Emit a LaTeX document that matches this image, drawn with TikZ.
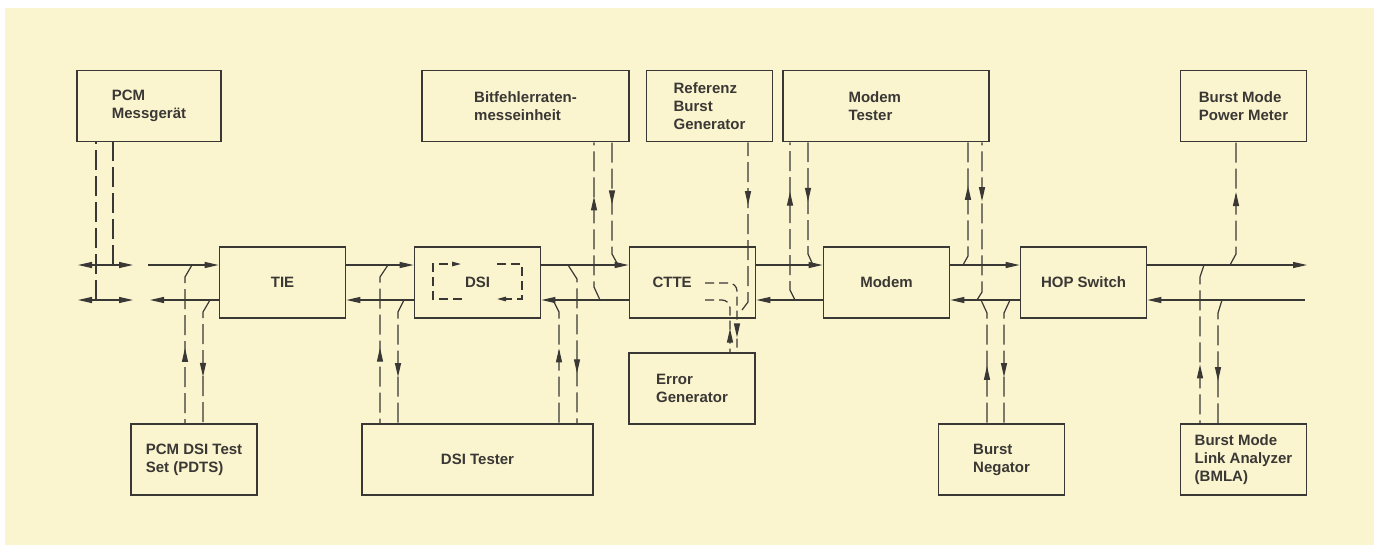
\documentclass[tikz,border=0pt]{standalone}
\usepackage{fontspec}
\setmainfont{Liberation Sans}
\usetikzlibrary{arrows.meta, decorations.markings}
\definecolor{paper}{RGB}{250,244,207}
\definecolor{ink}{RGB}{58,56,52}

\begin{document}
\begin{tikzpicture}[x=1pt, y=-1pt, >={Triangle[length=14pt, width=6pt]},
    font=\bfseries\fontsize{15}{18}\selectfont,
    box/.style={draw=ink, line width=1.8pt, text=ink, align=left, minimum width=126pt, minimum height=71pt, inner sep=2pt},
    bus/.style={draw=ink, line width=1.2pt},
    tap/.style={draw=ink, line width=1.2pt, dash pattern=on 20pt off 6pt},
    inner/.style={draw=ink, line width=1.2pt, dash pattern=on 9pt off 5pt},
    small/.style={-{Triangle[length=9pt, width=4.5pt]}},
    fwd/.style={postaction={decorate}, decoration={markings, mark=at position #1 with {\arrow{>}}}},
    fwd/.default=0.5,
    bwd/.style={postaction={decorate}, decoration={markings, mark=at position #1 with {\arrowreversed{>}}}},
    bwd/.default=0.5]
  % paper
  \fill[white] (0,0) rectangle (1379,550);
  \fill[paper] (5,8) rectangle (1374,545);
  \useasboundingbox (0,0) rectangle (1379,550);

  % top row
  \node[box, minimum width=144pt] (pcm) at (149,106) {PCM\\Messgerät};
  \node[box, minimum width=207pt] (bfr) at (525.5,106) {Bitfehlerraten-\\messeinheit};
  \node[box] (rbg) at (709.5,106) {Referenz\\Burst\\Generator};
  \node[box, minimum width=206pt] (mtst) at (886,106) {\makebox[75pt][l]{Modem}\\Tester};
  \node[box] (bmpm) at (1243.5,106) {Burst Mode\\Power Meter};
  % main chain
  \node[box] (tie) at (282.5,282.5) {TIE};
  \node[box] (dsi) at (477.5,282.5) {DSI};
  \node[box] (ctte) at (692.5,282.5) {\makebox[80pt][l]{CTTE}};
  \node[box] (modem) at (886.5,282.5) {Modem};
  \node[box] (hop) at (1083.5,282.5) {HOP Switch};
  % bottom row
  \node[box] (errg) at (692,388.5) {Error\\Generator};
  \node[box] (pdts) at (194,459.5) {PCM DSI Test\\Set (PDTS)};
  \node[box, minimum width=231pt] (dsit) at (477.5,459.5) {DSI Tester};
  \node[box] (bneg) at (1001.5,459.5) {Burst\\Negator};
  \node[box] (bmla) at (1243.5,459.5) {Burst Mode\\Link Analyzer\\(BMLA)};

  % bus levels and free ends
  \coordinate (up) at (0,265);
  \coordinate (dn) at (0,300);
  \coordinate (lu1) at (78,265);
  \coordinate (lu2) at (133,265);
  \coordinate (ld1) at (78,300);
  \coordinate (ld2) at (133,300);
  \coordinate (tu) at (148,265);
  \coordinate (td) at (150,300);
  \coordinate (ru) at (1307,265);
  \coordinate (rd) at (1305,300);

  % bus lines
  \draw[bus, <->] (lu1) -- (lu2);
  \draw[bus, <->] (ld1) -- (ld2);
  \draw[bus, ->] (tu) -- (tie.west |- up);
  \draw[bus, ->] (tie.west |- dn) -- (td);
  \draw[bus, ->] (tie.east |- up) -- (dsi.west |- up);
  \draw[bus, ->] (dsi.west |- dn) -- (tie.east |- dn);
  \draw[bus, ->] (dsi.east |- up) -- (ctte.west |- up);
  \draw[bus, ->] (ctte.west |- dn) -- (dsi.east |- dn);
  \draw[bus, ->] (ctte.east |- up) -- (modem.west |- up);
  \draw[bus, ->] (modem.west |- dn) -- (ctte.east |- dn);
  \draw[bus, ->] (modem.east |- up) -- (hop.west |- up);
  \draw[bus, ->] (hop.west |- dn) -- (modem.east |- dn);
  \draw[bus, ->] (hop.east |- up) -- (ru);
  \draw[bus, ->] (rd) -- (hop.east |- dn);

  % taps
  \draw[tap] (96,300) -- ([xshift=-53pt]pcm.south);
  \draw[tap] (113,265) -- ([xshift=-36pt]pcm.south);
  \draw[tap, bwd=0.53] (192,265) -- (185,277) -- ([xshift=-9pt]pdts.north);
  \draw[tap, fwd=0.63] (210,300) -- (203,312) -- ([xshift=9pt]pdts.north);
  \draw[tap, bwd=0.53] (388,265) -- (380,277) -- ([xshift=-97.5pt]dsit.north);
  \draw[tap, fwd=0.63] (404,300) -- (398,312) -- ([xshift=-79.5pt]dsit.north);
  \draw[tap, bwd=0.4] (553,300) -- (559,312) -- ([xshift=81.5pt]dsit.north);
  \draw[tap, fwd=0.69] (568,265) -- (577,279) -- ([xshift=99.5pt]dsit.north);
  \draw[tap, fwd=0.66] (600,300) -- (594,287) -- ([xshift=68.5pt]bfr.south);
  \draw[tap, bwd=0.5] (618,265) -- (612,254) -- ([xshift=86.5pt]bfr.south);
  \draw[tap, bwd=0.63] (742,310) -- (748,302) -- ([xshift=38.5pt]rbg.south);
  \draw[tap, fwd=0.69] (795,300) -- (790,290) -- ([xshift=-96pt]mtst.south);
  \draw[tap, bwd=0.52] (813,265) -- (808,254) -- ([xshift=-78pt]mtst.south);
  \draw[tap, fwd=0.65] (963,265) -- (968,256) -- ([xshift=82pt]mtst.south);
  \draw[tap, bwd=0.63] (977,300) -- (982,292) -- ([xshift=96pt]mtst.south);
  \draw[tap, bwd=0.54] (981,300) -- (987,313) -- ([xshift=-14.5pt]bneg.north);
  \draw[tap, fwd=0.63] (1010,300) -- (1004,313) -- ([xshift=2.5pt]bneg.north);
  \draw[tap, fwd=0.6] (1230,265) -- (1236,254) -- ([xshift=-7.5pt]bmpm.south);
  \draw[tap, bwd=0.63] (1204,265) -- (1200,277) -- ([xshift=-43.5pt]bmla.north);
  \draw[tap, fwd=0.66] (1222,300) -- (1218,313) -- ([xshift=-25.5pt]bmla.north);

  % inside CTTE and DSI
  \draw[inner, rounded corners=8pt, fwd=0.85] (705,283) -| ([xshift=45pt]errg.north);
  \draw[inner, rounded corners=8pt, bwd=0.68] (705,300) -| ([xshift=38pt]errg.north);
  \draw[inner, small] (462,299) -- (433,299) -- (433,264) -- (461,264);
  \draw[inner, small] (497,264) -- (522,264) -- (522,299) -- (497,299);
\end{tikzpicture}
\end{document}
